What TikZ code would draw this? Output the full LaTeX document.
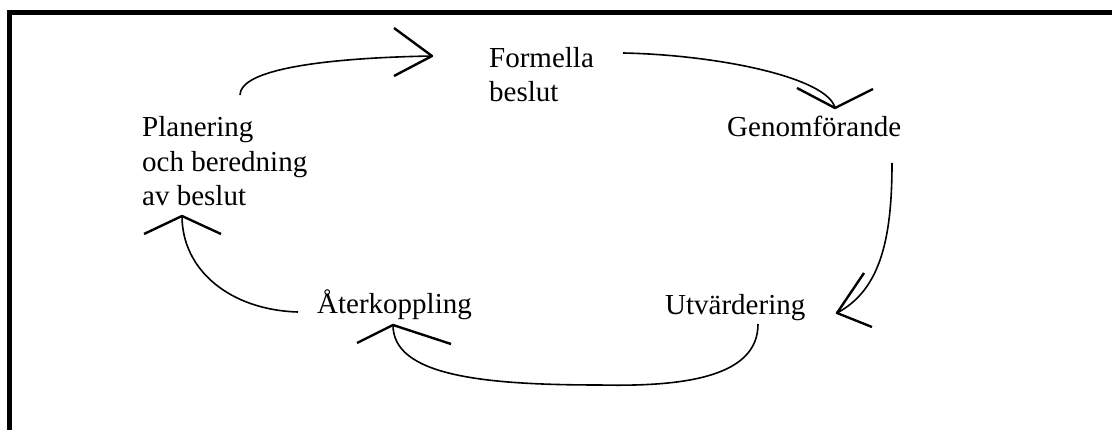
\documentclass[tikz,border=0pt]{standalone}
\usepackage{fontspec}
\setmainfont{Liberation Serif}
\begin{document}
\begin{tikzpicture}[x=1pt,y=-1pt,
  lbl/.style={anchor=base west,inner sep=0pt,align=left,font=\fontsize{29}{34.5}\selectfont},
  conn/.style={line width=1.6pt},
  barb/.style={line width=2.4pt,line join=round}]
\useasboundingbox (0,0) rectangle (1112,430);
% frame
\draw[line width=5pt,line join=miter] (9.5,440) -- (9.5,12.5) -- (1120,12.5);
% labels (anchor = baseline of last line)
\node[lbl] (plan) at (142,206) {Planering\\och beredning\\av beslut};
\node[lbl] (form) at (489,102) {Formella\\beslut};
\node[lbl] (gen) at (727,137) {Genomförande};
\node[lbl] (utv) at (665,315) {Utvärdering};
\node[lbl] (ater) at (317,314) {Återkoppling};
% arrow ends
\coordinate (a1s) at (240,95);  \coordinate (a1t) at (432,56);
\coordinate (a1u) at (394,28);  \coordinate (a1v) at (394,76);
\coordinate (a2s) at (623,53);  \coordinate (a2t) at (835,108);
\coordinate (a2u) at (797,88);  \coordinate (a2v) at (873,89);
\coordinate (a3s) at (892,163); \coordinate (a3t) at (837,313);
\coordinate (a3u) at (864,273); \coordinate (a3v) at (872,327);
\coordinate (a4s) at (758,324); \coordinate (a4m) at (600,385); \coordinate (a4t) at (393,325);
\coordinate (a4u) at (357,343); \coordinate (a4v) at (451,344);
\coordinate (a5s) at (298,312); \coordinate (a5t) at (182,216);
\coordinate (a5u) at (144,234); \coordinate (a5v) at (221,234);
% connectors
\draw[conn] (a1s) .. controls (240,70) and (320,58) .. (a1t);
\draw[barb] (a1u) -- (a1t) -- (a1v);
\draw[conn] (a2s) .. controls (720,55) and (828,78) .. (a2t);
\draw[barb] (a2u) -- (a2t) -- (a2v);
\draw[conn] (a3s) .. controls (892,240) and (880,290) .. (a3t);
\draw[barb] (a3u) -- (a3t) -- (a3v);
\draw[conn] (a4s) .. controls (758,375) and (690,387) .. (a4m)
                  .. controls (480,385) and (393,375) .. (a4t);
\draw[barb] (a4u) -- (a4t) -- (a4v);
\draw[conn] (a5s) .. controls (230,310) and (182,270) .. (a5t);
\draw[barb] (a5u) -- (a5t) -- (a5v);
\end{tikzpicture}
\end{document}
